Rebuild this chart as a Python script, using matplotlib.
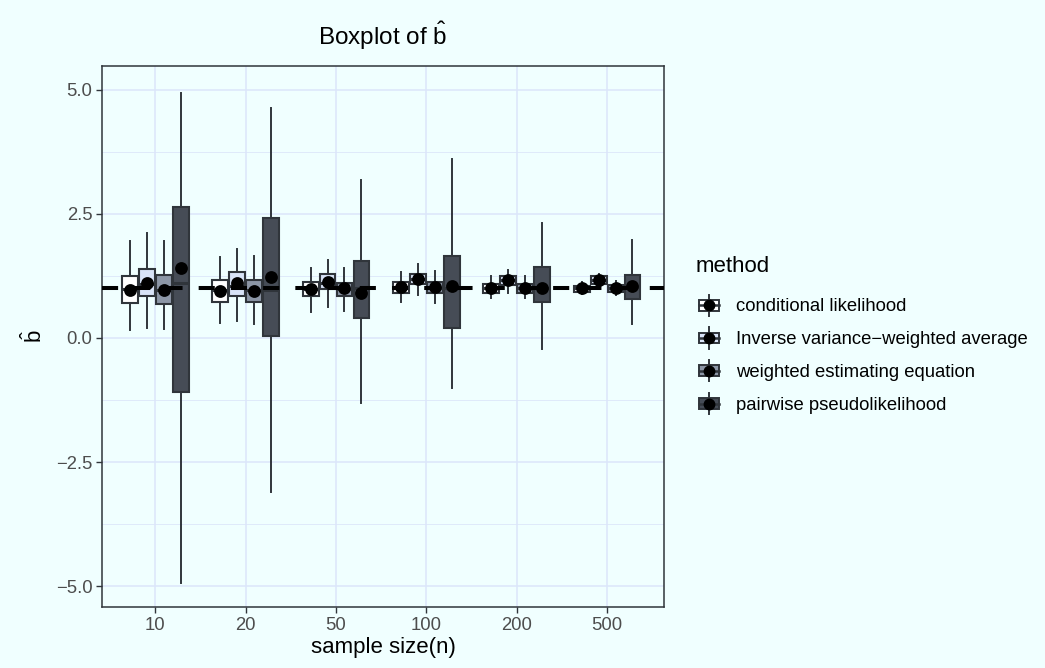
import matplotlib
matplotlib.use('Agg')
import matplotlib.pyplot as plt
from matplotlib.legend_handler import HandlerBase
from matplotlib.patches import Rectangle, Patch
from matplotlib.lines import Line2D

plt.rcParams['font.family'] = ['Liberation Sans', 'DejaVu Sans']
plt.rcParams['mathtext.fontset'] = 'custom'
plt.rcParams['mathtext.rm'] = 'Liberation Sans'
plt.rcParams['mathtext.it'] = 'Liberation Sans:italic'

# data
sizes = ['10', '20', '50', '100', '200', '500']
methods = ['conditional likelihood', 'Inverse variance\u2212weighted average',
           'weighted estimating equation', 'pairwise pseudolikelihood']

whislo = [[0.17, 0.30, 0.53, 0.73, 0.80, 0.89],
          [0.21, 0.35, 0.63, 0.87, 0.91, 1.03],
          [0.18, 0.28, 0.55, 0.71, 0.80, 0.87],
          [-4.93, -3.10, -1.31, -1.01, -0.22, 0.28]]
q1 = [[0.71, 0.73, 0.85, 0.91, 0.91, 0.93],
      [0.85, 0.85, 0.99, 1.09, 1.07, 1.09],
      [0.69, 0.73, 0.85, 0.91, 0.91, 0.93],
      [-1.08, 0.04, 0.40, 0.21, 0.73, 0.78]]
med = [[0.98, 0.97, 0.98, 1.01, 1.00, 1.00],
       [1.08, 1.05, 1.10, 1.18, 1.16, 1.17],
       [0.97, 0.96, 0.99, 1.01, 1.00, 1.00],
       [1.10, 0.97, 1.00, 1.00, 1.00, 1.03]]
q3 = [[1.25, 1.16, 1.12, 1.12, 1.09, 1.05],
      [1.40, 1.32, 1.28, 1.28, 1.25, 1.24],
      [1.26, 1.16, 1.10, 1.12, 1.09, 1.07],
      [2.64, 2.41, 1.55, 1.66, 1.44, 1.27]]
whishi = [[1.96, 1.64, 1.42, 1.32, 1.24, 1.12],
          [2.11, 1.79, 1.57, 1.49, 1.37, 1.29],
          [1.96, 1.66, 1.42, 1.34, 1.24, 1.14],
          [4.94, 4.63, 3.19, 3.61, 2.31, 1.98]]
means = [[0.97, 0.95, 0.98, 1.02, 1.00, 1.00],
         [1.11, 1.10, 1.13, 1.18, 1.16, 1.17],
         [0.97, 0.95, 1.00, 1.02, 1.00, 1.00],
         [1.42, 1.22, 0.90, 1.05, 1.00, 1.05]]
true_b = 1.0

y_ticks = [-5.0, -2.5, 0.0, 2.5, 5.0]
y_ticklabels = ['\u22125.0', '\u22122.5', '0.0', '2.5', '5.0']
y_minor = [-3.75, -1.25, 1.25, 3.75]

fills = ['#FFFFFF', '#D8E3F7', '#8C96A6', '#464C56']
edge = '#30353B'
bg = '#F0FFFF'
gridc = '#DCE6FA'


class BoxKey(HandlerBase):
    def create_artists(self, legend, orig_handle, xdescent, ydescent,
                       width, height, fontsize, trans):
        x0, y0 = -xdescent, -ydescent
        cx, cy = x0 + width / 2, y0 + height / 2
        whisk = Line2D([cx, cx], [y0, y0 + height], color=edge, lw=1.4,
                       transform=trans)
        box = Rectangle((x0 + 0.12 * width, y0 + 0.25 * height), 0.76 * width,
                        0.5 * height, facecolor=orig_handle.get_facecolor(),
                        edgecolor=edge, lw=1.4, transform=trans)
        mid = Line2D([x0 + 0.12 * width, x0 + 0.88 * width], [cy, cy],
                     color=edge, lw=1.8, transform=trans)
        dot = Line2D([cx], [cy], marker='o', ms=7.5, color='black',
                     transform=trans)
        return [whisk, box, mid, dot]


fig = plt.figure(figsize=(10.45, 6.68), dpi=100, facecolor=bg)
ax = fig.add_axes([102 / 1045, 1 - 607 / 668, 562 / 1045, 541 / 668])
ax.set_facecolor(bg)

offsets = [-0.28125, -0.09375, 0.09375, 0.28125]
for i in range(len(methods)):
    stats = []
    for j in range(len(sizes)):
        stats.append(dict(whislo=whislo[i][j], q1=q1[i][j], med=med[i][j],
                          q3=q3[i][j], whishi=whishi[i][j]))
    pos = [j + 1 + offsets[i] for j in range(len(sizes))]
    ax.bxp(stats, positions=pos, widths=0.175, showcaps=False,
           showfliers=False, patch_artist=True, manage_ticks=False,
           boxprops=dict(facecolor=fills[i], edgecolor=edge, linewidth=1.5),
           whiskerprops=dict(color=edge, linewidth=1.4),
           medianprops=dict(color=edge, linewidth=2.2), zorder=2)

ax.axhline(true_b, color='black', lw=2.9, dashes=(4, 4), zorder=3)

for i in range(len(methods)):
    pos = [j + 1 + offsets[i] for j in range(len(sizes))]
    ax.scatter(pos, means[i], s=85, color='black', zorder=4, linewidths=0)

ax.set_xlim(0.41, 6.63)
ax.set_ylim(-5.42, 5.48)
ax.set_xticks(range(1, len(sizes) + 1))
ax.set_xticklabels(sizes)
ax.set_yticks(y_ticks)
ax.set_yticklabels(y_ticklabels)
ax.set_yticks(y_minor, minor=True)
ax.grid(which='major', color=gridc, lw=1.1)
ax.grid(which='minor', axis='y', color=gridc, lw=0.6)
ax.set_axisbelow(True)
ax.tick_params(which='major', length=4, width=1.0, color=edge,
               labelsize=13.3, labelcolor='#4D4D4D', pad=3)
ax.tick_params(which='minor', length=0)
for s in ax.spines.values():
    s.set_color(edge)
    s.set_linewidth(1.1)

ax.set_xlabel('sample size(n)', fontsize=16, labelpad=2)
ax.set_ylabel(r'$\hat{\mathrm{b}}$', fontsize=16, labelpad=6)
ax.set_title(r'Boxplot of $\hat{\mathrm{b}}$', fontsize=17.5, pad=15)

handles = [Patch(facecolor=c) for c in fills]
leg = fig.legend(handles, methods, handler_map={Patch: BoxKey()},
                 loc='upper left', bbox_to_anchor=(696 / 1045, 1 - 256 / 668),
                 frameon=False, fontsize=13.3, title='method',
                 title_fontsize=16, handlelength=1.4, handleheight=1.4,
                 labelspacing=0.62, handletextpad=0.75, borderpad=0,
                 borderaxespad=0, alignment='left')
leg._legend_box.sep = 12.6

fig.savefig('out.png', dpi=100, facecolor=bg)
